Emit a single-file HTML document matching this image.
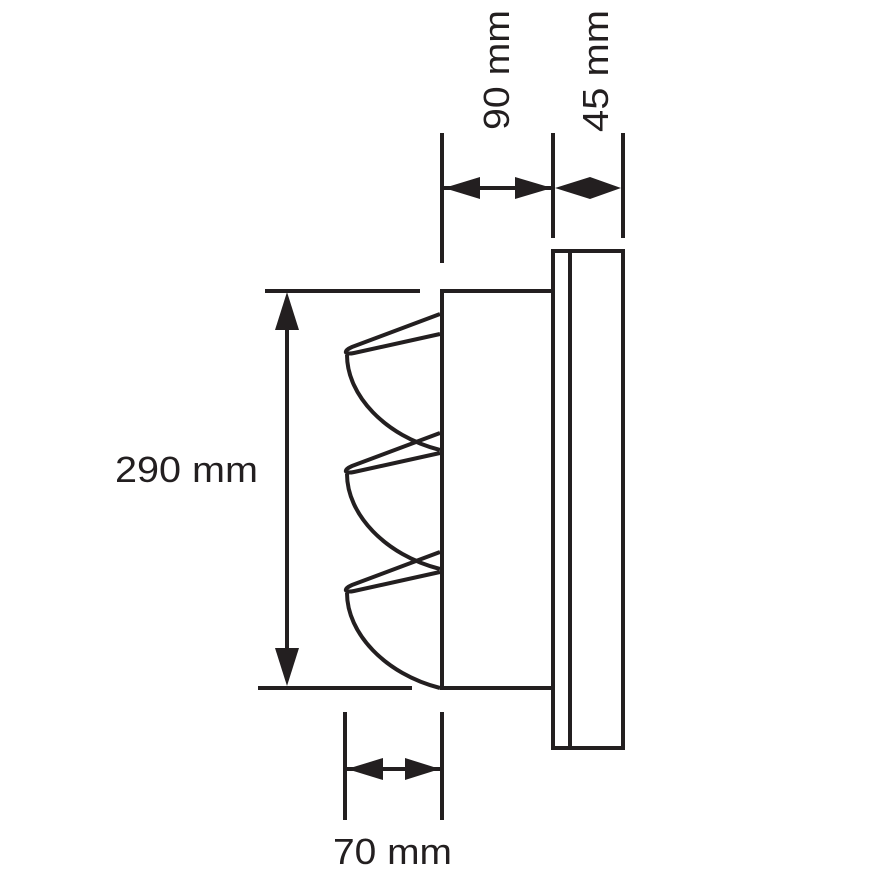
<!DOCTYPE html>
<html><head><style>html,body{margin:0;padding:0;background:#fff}</style></head>
<body>
<svg width="876" height="876" viewBox="0 0 876 876" xmlns="http://www.w3.org/2000/svg">
<g stroke="#231f20" stroke-width="4" fill="none">
<line x1="442" y1="133" x2="442" y2="263"/>
<line x1="553" y1="133" x2="553" y2="238"/>
<line x1="623" y1="133" x2="623" y2="238"/>
<line x1="444" y1="188" x2="552" y2="188"/>
<rect x="442" y="291" width="111" height="397"/>
<rect x="553" y="251" width="70" height="497"/>
<line x1="570" y1="251" x2="570" y2="748"/>
<line x1="265" y1="291" x2="420" y2="291"/>
<line x1="258" y1="688" x2="412" y2="688"/>
<line x1="287" y1="300" x2="287" y2="680"/>
<line x1="345" y1="712" x2="345" y2="820"/>
<line x1="442" y1="712" x2="442" y2="820"/>
<line x1="347" y1="769" x2="440" y2="769"/>
<g id="b">
<path d="M440,314 L352,347 C343,351 344,355 354,353 L440,334"/>
<path d="M347,355 C347,395 385,436 440,450"/>
</g>
<use href="#b" y="119"/>
<use href="#b" y="238"/>
</g>
<g fill="#231f20">
<polygon points="444,188 480,177 480,199"/>
<polygon points="552,188 515,177 515,199"/>
<polygon points="555,188 590,177 590,199"/>
<polygon points="621,188 590,177 590,199"/>
<polygon points="287,292 275,330 299,330"/>
<polygon points="287,686 275,648 299,648"/>
<polygon points="347,769 383,758 383,780"/>
<polygon points="440,769 405,758 405,780"/>
</g>
<g font-family="Liberation Sans, sans-serif" font-size="36" fill="#231f20">
<text x="115" y="482" textLength="143" lengthAdjust="spacingAndGlyphs">290 mm</text>
<text x="333" y="864" textLength="119" lengthAdjust="spacingAndGlyphs">70 mm</text>
<text transform="translate(509,130) rotate(-90)" textLength="120" lengthAdjust="spacingAndGlyphs">90 mm</text>
<text transform="translate(608,132) rotate(-90)" textLength="122" lengthAdjust="spacingAndGlyphs">45 mm</text>
</g>
</svg>
</body></html>
